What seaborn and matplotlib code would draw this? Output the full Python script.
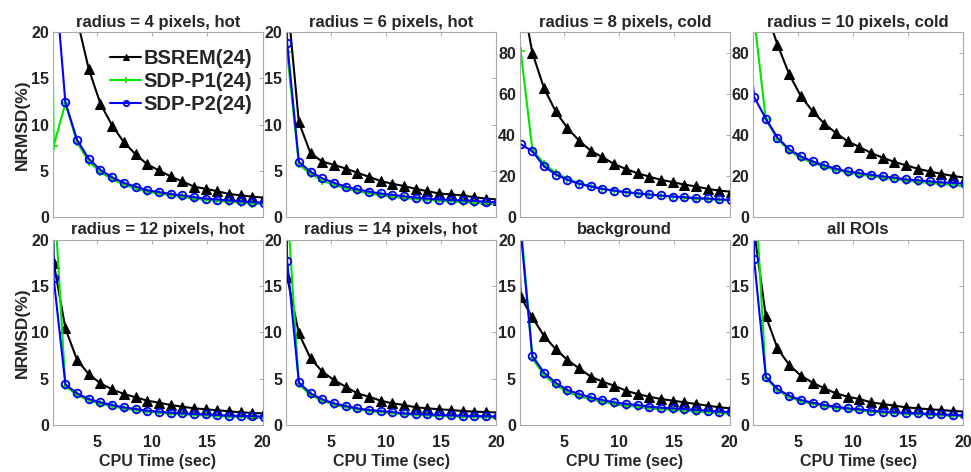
import numpy as np
import pandas as pd
import seaborn as sns
import matplotlib.pyplot as plt

# CPU time of each iteration (first entry = initial image)
times = [0.0, 1.06, 2.12, 3.18, 4.24, 5.30, 6.36, 7.42, 8.48, 9.54,
         10.60, 11.66, 12.72, 13.78, 14.84, 15.90, 16.96, 18.02, 19.08, 20.14]

methods = ["BSREM(24)", "SDP-P1(24)", "SDP-P2(24)"]

titles = ["radius = 4 pixels, hot", "radius = 6 pixels, hot",
          "radius = 8 pixels, cold", "radius = 10 pixels, cold",
          "radius = 12 pixels, hot", "radius = 14 pixels, hot",
          "background", "all ROIs"]

# radius 4, hot
bsrem_r4 = [100, 40, 28, 21.4, 16.0, 12.25, 9.9, 8.1, 6.8, 5.7, 5.05, 4.4, 3.85, 3.3, 3.05, 2.8, 2.5, 2.35, 2.2, 2.1]
sdp1_r4 = [124, 7.7, 12.3, 8.1, 6.0, 4.85, 4.1, 3.5, 3.1, 2.75, 2.55, 2.35, 2.2, 2.0, 1.85, 1.75, 1.65, 1.55, 1.45, 1.4]
sdp2_r4 = [100, 27.8, 12.4, 8.35, 6.3, 5.1, 4.3, 3.7, 3.3, 2.9, 2.7, 2.5, 2.35, 2.15, 2.0, 1.9, 1.8, 1.7, 1.62, 1.55]
# radius 6, hot
bsrem_r6 = [100, 23.85, 10.25, 6.9, 6.0, 5.65, 5.25, 4.8, 4.35, 3.9, 3.6, 3.35, 3.05, 2.8, 2.55, 2.45, 2.35, 2.15, 2.0, 1.9]
sdp1_r6 = [100, 17.8, 5.7, 4.65, 3.95, 3.45, 3.1, 2.8, 2.55, 2.35, 2.2, 2.05, 1.95, 1.85, 1.75, 1.7, 1.6, 1.55, 1.5, 1.45]
sdp2_r6 = [100, 18.85, 5.97, 4.9, 4.2, 3.7, 3.3, 3.0, 2.75, 2.55, 2.4, 2.25, 2.1, 2.0, 1.9, 1.85, 1.8, 1.75, 1.65, 1.6]
# radius 8, cold
bsrem_r8 = [140, 110.8, 80, 62.7, 51.4, 43.3, 37.2, 32.3, 29.1, 25.8, 23.4, 21.3, 19.7, 18.1, 17.0, 15.8, 14.9, 13.7, 12.9, 12.3]
sdp1_r8 = [100, 81, 33, 26, 21.5, 18.6, 16.5, 15.0, 13.7, 12.8, 12.0, 11.4, 10.8, 10.3, 9.8, 9.4, 9.0, 8.7, 8.4, 8.1]
sdp2_r8 = [40, 35.5, 32.0, 24.7, 20.7, 18.1, 16.15, 14.9, 13.7, 12.9, 12.1, 11.6, 11.0, 10.5, 10.0, 9.7, 9.2, 9.05, 8.6, 8.4]
# radius 10, cold
bsrem_r10 = [150, 125, 100.3, 83.9, 69.5, 58.8, 51.5, 45.5, 40.9, 36.9, 34.1, 31.2, 28.9, 26.8, 25.2, 23.5, 22.2, 21.1, 20.0, 19.2]
sdp1_r10 = [130, 97, 47.5, 38.0, 32.3, 28.8, 26.4, 24.5, 22.9, 21.6, 20.7, 19.9, 19.1, 18.4, 17.7, 17.1, 16.6, 16.1, 15.6, 15.0]
sdp2_r10 = [120, 58.4, 47.9, 38.6, 33.0, 29.5, 27.1, 25.2, 23.5, 22.2, 21.4, 20.6, 19.8, 19.2, 18.3, 17.9, 17.4, 16.9, 16.6, 16.2]
# radius 12, hot
bsrem_r12 = [100, 17.55, 10.45, 7.03, 5.5, 4.5, 3.85, 3.35, 3.0, 2.63, 2.41, 2.16, 1.98, 1.8, 1.7, 1.59, 1.48, 1.37, 1.3, 1.25]
sdp1_r12 = [100, 25.85, 4.2, 3.25, 2.65, 2.3, 2.02, 1.78, 1.6, 1.44, 1.33, 1.23, 1.15, 1.08, 1.03, 0.97, 0.9, 0.87, 0.84, 0.8]
sdp2_r12 = [100, 15.85, 4.4, 3.42, 2.8, 2.45, 2.16, 1.9, 1.73, 1.55, 1.44, 1.33, 1.26, 1.19, 1.15, 1.08, 1.0, 0.97, 0.95, 0.9]
# radius 14, hot
bsrem_r14 = [100, 16.0, 9.9, 7.2, 5.77, 4.86, 4.14, 3.42, 3.06, 2.63, 2.34, 2.16, 1.91, 1.8, 1.7, 1.62, 1.51, 1.44, 1.4, 1.35]
sdp1_r14 = [100, 24.0, 4.4, 3.25, 2.62, 2.2, 1.92, 1.68, 1.5, 1.4, 1.28, 1.15, 1.08, 1.03, 0.97, 0.93, 0.89, 0.86, 0.84, 0.81]
sdp2_r14 = [100, 17.77, 4.6, 3.42, 2.77, 2.34, 2.05, 1.8, 1.62, 1.51, 1.4, 1.26, 1.19, 1.15, 1.08, 1.04, 1.0, 0.97, 0.95, 0.92]
# background
bsrem_bg = [60, 13.87, 11.64, 9.62, 8.2, 7.03, 6.13, 5.23, 4.68, 4.25, 3.71, 3.35, 3.06, 2.81, 2.63, 2.45, 2.27, 2.09, 1.91, 1.8]
sdp1_bg = [100, 22.1, 7.2, 5.4, 4.33, 3.55, 3.12, 2.77, 2.5, 2.25, 2.08, 1.97, 1.8, 1.7, 1.62, 1.55, 1.45, 1.38, 1.28, 1.23]
sdp2_bg = [100, 21.0, 7.46, 5.66, 4.58, 3.78, 3.35, 2.99, 2.7, 2.45, 2.27, 2.16, 1.98, 1.87, 1.8, 1.73, 1.62, 1.55, 1.44, 1.4]
# all ROIs
bsrem_all = [100, 21.0, 11.78, 8.29, 6.49, 5.33, 4.58, 3.96, 3.42, 3.06, 2.81, 2.45, 2.27, 2.09, 1.91, 1.8, 1.7, 1.62, 1.51, 1.45]
sdp1_all = [100, 27.7, 5.1, 3.75, 3.02, 2.56, 2.28, 2.03, 1.86, 1.69, 1.59, 1.45, 1.34, 1.27, 1.2, 1.16, 1.09, 1.05, 0.98, 0.94]
sdp2_all = [100, 17.9, 5.22, 3.9, 3.17, 2.7, 2.41, 2.16, 1.98, 1.8, 1.7, 1.55, 1.44, 1.37, 1.3, 1.26, 1.19, 1.15, 1.08, 1.04]

panels = [
    (bsrem_r4, sdp1_r4, sdp2_r4), (bsrem_r6, sdp1_r6, sdp2_r6),
    (bsrem_r8, sdp1_r8, sdp2_r8), (bsrem_r10, sdp1_r10, sdp2_r10),
    (bsrem_r12, sdp1_r12, sdp2_r12), (bsrem_r14, sdp1_r14, sdp2_r14),
    (bsrem_bg, sdp1_bg, sdp2_bg), (bsrem_all, sdp1_all, sdp2_all),
]

rows = []
for title, series in zip(titles, panels):
    for m, vals in zip(methods, series):
        for t, v in zip(times, vals):
            rows.append([title, m, t, v])
df = pd.DataFrame(rows, columns=["roi", "method", "time", "nrmsd"])

sns.set_style("white")
plt.rcParams['font.family'] = ['Liberation Sans', 'DejaVu Sans']
plt.rcParams['font.weight'] = 'bold'
plt.rcParams['axes.labelweight'] = 'bold'
plt.rcParams['axes.titleweight'] = 'bold'

green = "#00e600"
blue = "#0000ff"
styles = {
    "BSREM(24)": dict(color="black", marker="^", ms=6.5, mfc="black", mec="black"),
    "SDP-P1(24)": dict(color=green, marker="+", ms=5.5, mec=green, mew=1.2),
    "SDP-P2(24)": dict(color=blue, marker="o", ms=5.5, mfc="none", mec=blue, mew=1.3),
}

fig, axes = plt.subplots(2, 4, figsize=(9.71, 4.72), dpi=100)
fig.subplots_adjust(left=0.0546, right=0.9918, top=0.932, bottom=0.0996,
                    wspace=0.114, hspace=0.124)

for i, (ax, title) in enumerate(zip(axes.flat, titles)):
    sub = df[df["roi"] == title]
    for m in methods:
        d = sub[sub["method"] == m]
        sns.lineplot(data=d, x="time", y="nrmsd", ax=ax, label=m, lw=1.5,
                     legend=False, **styles[m])
    ax.set_xlim(1, 20)
    if title in ("radius = 8 pixels, cold", "radius = 10 pixels, cold"):
        ax.set_ylim(0, 90)
        ax.set_yticks([0, 20, 40, 60, 80])
    else:
        ax.set_ylim(0, 20)
        ax.set_yticks([0, 5, 10, 15, 20])
    ax.set_xticks([5, 10, 15, 20])
    ax.set_title(title, fontsize=12, fontweight='bold', pad=4)
    ax.tick_params(direction='in', top=True, right=True, length=3, width=0.6,
                   color='#999999', labelsize=11.5, labelcolor='#222222', pad=3)
    ax.tick_params(axis='x', pad=7)
    for sp in ax.spines.values():
        sp.set_color('#aaaaaa')
        sp.set_linewidth(0.8)
    ax.set_xlabel("CPU Time (sec)" if i >= 4 else "", fontsize=11.5, labelpad=3)
    ax.set_ylabel("NRMSD(%)" if i % 4 == 0 else "", fontsize=12.5, labelpad=1)
    if i < 4:
        ax.tick_params(labelbottom=False)

axes[0, 0].legend(loc='upper right', frameon=False, fontsize=14.5,
                  handlelength=1.5, handletextpad=0.15, labelspacing=0.2,
                  markerscale=0.7, borderaxespad=0.0, bbox_to_anchor=(0.99, 0.95))

fig.savefig("out.png", dpi=100)
